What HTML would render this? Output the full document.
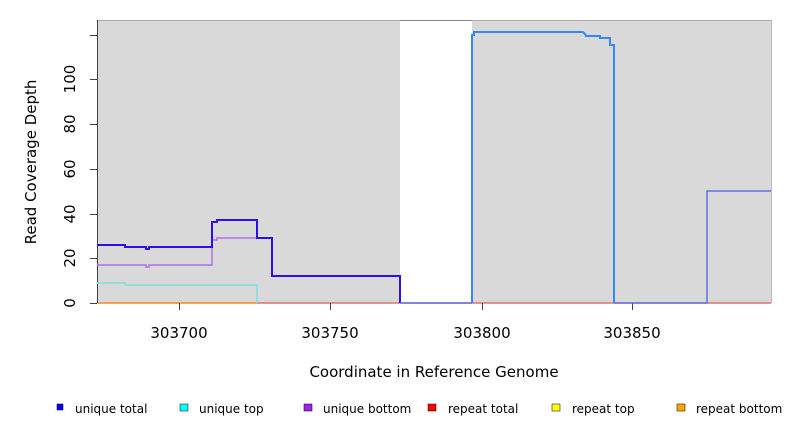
<!DOCTYPE html><html><head><style>body{margin:0;background:#fff}svg{display:block}text{font-family:"DejaVu Sans","Liberation Sans",sans-serif}</style></head><body>
<svg width="792" height="432" viewBox="0 0 792 432">
<rect x="97" y="20" width="674" height="283" fill="#d9d9d9"/>
<rect x="400" y="21" width="72" height="282" fill="#fff"/>
<line x1="97" y1="20.5" x2="771" y2="20.5" stroke="#aaa"/>
<line x1="400" y1="20.5" x2="472" y2="20.5" stroke="#888"/>
<line x1="771.5" y1="20" x2="771.5" y2="303" stroke="#bbb"/>
<line x1="97" y1="303" x2="771" y2="303" stroke="#e07070" stroke-width="1.5"/>
<line x1="97" y1="303" x2="257" y2="303" stroke="#ff9a30" stroke-width="1.5"/>
<g stroke="#444" stroke-width="1">
<line x1="97.5" y1="20" x2="97.5" y2="303"/>
<line x1="90" y1="303.5" x2="97" y2="303.5"/><line x1="90" y1="258.5" x2="97" y2="258.5"/><line x1="90" y1="214.5" x2="97" y2="214.5"/><line x1="90" y1="169.5" x2="97" y2="169.5"/><line x1="90" y1="124.5" x2="97" y2="124.5"/><line x1="90" y1="79.5" x2="97" y2="79.5"/><line x1="90" y1="35.5" x2="97" y2="35.5"/>
<line x1="179.5" y1="303" x2="179.5" y2="310"/><line x1="330.5" y1="303" x2="330.5" y2="310"/><line x1="482.5" y1="303" x2="482.5" y2="310"/><line x1="632.5" y1="303" x2="632.5" y2="310"/>
</g>
<g font-size="15" fill="#000" text-anchor="middle">
<text transform="translate(75,303) rotate(-90)">0</text>
<text transform="translate(75,258) rotate(-90)">20</text>
<text transform="translate(75,214) rotate(-90)">40</text>
<text transform="translate(75,169) rotate(-90)">60</text>
<text transform="translate(75,124) rotate(-90)">80</text>
<text transform="translate(75,79) rotate(-90)">100</text>
<text x="179" y="338">303700</text><text x="330" y="338">303750</text><text x="482" y="338">303800</text><text x="632" y="338">303850</text>
<text x="434" y="377">Coordinate in Reference Genome</text>
<text transform="translate(36,162) rotate(-90)">Read Coverage Depth</text>
</g>
<polyline fill="none" stroke="#80e0e0" stroke-width="1.5" points="97,283 125,283 125,285 257,285 257,303"/>
<polyline fill="none" stroke="#b070e8" stroke-width="1.5" points="97,265 146,265 146,267 149,267 149,265 212,265 212,240 217,240 217,238 257,238"/>
<polyline fill="none" stroke="#2a10f0" stroke-width="2" points="97,245 125,245 125,247 146,247 146,249 149,249 149,247 212,247 212,222 217,222 217,220 257,220 257,238 272,238 272,276 400,276 400,303"/>
<polyline fill="none" stroke="#3388ff" stroke-width="2" points="472,303 472,35 474,35 474,32 583,32 585,34 586,36 600,36 600,38 610,38 610,45 614,45 614,303"/>
<polyline fill="none" stroke="#6070e8" stroke-width="1.5" points="400,303 472,303"/>
<polyline fill="none" stroke="#6070e8" stroke-width="1.5" points="614,303 707,303 707,191 771,191"/>
<g font-size="12" fill="#000">
<rect x="57" y="404" width="6" height="6" fill="#00f" stroke="#000" stroke-width="0.5"/><text x="75" y="413">unique total</text>
<rect x="180" y="404" width="8" height="7" fill="#0ff" stroke="#000" stroke-width="0.5"/><text x="199" y="413">unique top</text>
<rect x="304" y="404" width="8" height="7" fill="#a020f0" stroke="#000" stroke-width="0.5"/><text x="323" y="413">unique bottom</text>
<rect x="428" y="404" width="8" height="7" fill="#f00" stroke="#000" stroke-width="0.5"/><text x="448" y="413">repeat total</text>
<rect x="552" y="404" width="8" height="7" fill="#ff0" stroke="#000" stroke-width="0.5"/><text x="572" y="413">repeat top</text>
<rect x="677" y="404" width="8" height="7" fill="#ffa500" stroke="#000" stroke-width="0.5"/><text x="696" y="413">repeat bottom</text>
</g>
</svg></body></html>
